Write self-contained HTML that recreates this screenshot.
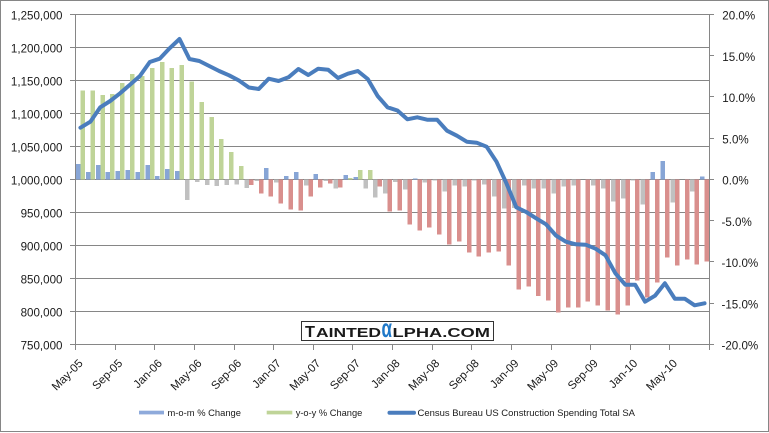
<!DOCTYPE html>
<html><head><meta charset="utf-8"><style>
html,body{margin:0;padding:0;background:#fff;}
svg{display:block;}
text{font-family:"Liberation Sans",Arial,sans-serif;}
</style></head><body>
<svg width="769" height="433" viewBox="0 0 769 433" xmlns="http://www.w3.org/2000/svg">
<rect x="0" y="0" width="769" height="433" fill="#ffffff"/>
<rect x="0.5" y="0.5" width="768" height="431" fill="#ffffff" stroke="#868686"/>
<!-- gridlines -->
<g stroke="#868686" stroke-width="1" shape-rendering="crispEdges">
<line x1="75.5" y1="14.5" x2="709.5" y2="14.5"/>
<line x1="75.5" y1="47.5" x2="709.5" y2="47.5"/>
<line x1="75.5" y1="80.5" x2="709.5" y2="80.5"/>
<line x1="75.5" y1="113.5" x2="709.5" y2="113.5"/>
<line x1="75.5" y1="146.5" x2="709.5" y2="146.5"/>
<line x1="75.5" y1="179.5" x2="709.5" y2="179.5"/>
<line x1="75.5" y1="212.5" x2="709.5" y2="212.5"/>
<line x1="75.5" y1="245.5" x2="709.5" y2="245.5"/>
<line x1="75.5" y1="278.5" x2="709.5" y2="278.5"/>
<line x1="75.5" y1="311.5" x2="709.5" y2="311.5"/>
</g>
<!-- m-o-m positive -->
<g fill="#87a5d6" shape-rendering="crispEdges">
<rect x="76.0" y="164" width="4.5" height="15.5"/>
<rect x="85.9" y="172" width="4.5" height="7.5"/>
<rect x="95.8" y="165" width="4.5" height="14.5"/>
<rect x="105.7" y="172" width="4.5" height="7.5"/>
<rect x="115.6" y="171" width="4.5" height="8.5"/>
<rect x="125.5" y="170" width="4.5" height="9.5"/>
<rect x="135.4" y="172" width="4.5" height="7.5"/>
<rect x="145.3" y="165" width="4.5" height="14.5"/>
<rect x="155.2" y="176" width="4.5" height="3.5"/>
<rect x="165.2" y="169" width="4.5" height="10.5"/>
<rect x="175.1" y="171" width="4.5" height="8.5"/>
<rect x="264.2" y="168" width="4.5" height="11.5"/>
<rect x="284.0" y="176" width="4.5" height="3.5"/>
<rect x="293.9" y="172" width="4.5" height="7.5"/>
<rect x="313.7" y="174" width="4.5" height="5.5"/>
<rect x="343.5" y="175" width="4.5" height="4.5"/>
<rect x="353.4" y="177" width="4.5" height="2.5"/>
<rect x="412.8" y="178.3" width="4.5" height="1.2"/>
<rect x="650.5" y="172" width="4.5" height="7.5"/>
<rect x="660.5" y="161" width="4.5" height="18.5"/>
<rect x="700.1" y="176.7" width="4.5" height="2.8"/>
</g>
<!-- m-o-m negative -->
<g fill="#c0c0c0" shape-rendering="crispEdges">
<rect x="185.0" y="179.5" width="4.5" height="20.5"/>
<rect x="194.9" y="179.5" width="4.5" height="2.5"/>
<rect x="204.8" y="179.5" width="4.5" height="5.5"/>
<rect x="214.7" y="179.5" width="4.5" height="6.5"/>
<rect x="224.6" y="179.5" width="4.5" height="5.5"/>
<rect x="234.5" y="179.5" width="4.5" height="5.2"/>
<rect x="244.4" y="179.5" width="4.5" height="8.5"/>
<rect x="254.3" y="179.5" width="4.5" height="1.5"/>
<rect x="274.1" y="179.5" width="4.5" height="3.2"/>
<rect x="303.8" y="179.5" width="4.5" height="6.2"/>
<rect x="323.7" y="179.5" width="4.5" height="1.5"/>
<rect x="333.6" y="179.5" width="4.5" height="9.2"/>
<rect x="363.3" y="179.5" width="4.5" height="9.2"/>
<rect x="373.2" y="179.5" width="4.5" height="18.2"/>
<rect x="383.1" y="179.5" width="4.5" height="14.2"/>
<rect x="393.0" y="179.5" width="4.5" height="2.5"/>
<rect x="402.9" y="179.5" width="4.5" height="9.8"/>
<rect x="422.7" y="179.5" width="4.5" height="3.2"/>
<rect x="432.6" y="179.5" width="4.5" height="1.2"/>
<rect x="442.5" y="179.5" width="4.5" height="12.2"/>
<rect x="452.4" y="179.5" width="4.5" height="6.2"/>
<rect x="462.3" y="179.5" width="4.5" height="7.2"/>
<rect x="472.2" y="179.5" width="4.5" height="1.2"/>
<rect x="482.1" y="179.5" width="4.5" height="5.2"/>
<rect x="492.1" y="179.5" width="4.5" height="17.2"/>
<rect x="502.0" y="179.5" width="4.5" height="29"/>
<rect x="511.9" y="179.5" width="4.5" height="28.5"/>
<rect x="521.8" y="179.5" width="4.5" height="6"/>
<rect x="531.7" y="179.5" width="4.5" height="9"/>
<rect x="541.6" y="179.5" width="4.5" height="9"/>
<rect x="551.5" y="179.5" width="4.5" height="14"/>
<rect x="561.4" y="179.5" width="4.5" height="7.2"/>
<rect x="571.3" y="179.5" width="4.5" height="6"/>
<rect x="591.1" y="179.5" width="4.5" height="6"/>
<rect x="601.0" y="179.5" width="4.5" height="9.2"/>
<rect x="610.9" y="179.5" width="4.5" height="22"/>
<rect x="620.8" y="179.5" width="4.5" height="19"/>
<rect x="630.7" y="179.5" width="4.5" height="1"/>
<rect x="640.6" y="179.5" width="4.5" height="25"/>
<rect x="670.4" y="179.5" width="4.5" height="22.8"/>
<rect x="690.2" y="179.5" width="4.5" height="12"/>
</g>
<!-- y-o-y positive -->
<g fill="#bfd498" shape-rendering="crispEdges">
<rect x="80.5" y="90.7" width="4.5" height="88.8"/>
<rect x="90.4" y="90.7" width="4.5" height="88.8"/>
<rect x="100.3" y="95" width="4.5" height="84.5"/>
<rect x="110.2" y="94" width="4.5" height="85.5"/>
<rect x="120.1" y="83" width="4.5" height="96.5"/>
<rect x="130.0" y="74" width="4.5" height="105.5"/>
<rect x="139.9" y="76" width="4.5" height="103.5"/>
<rect x="149.8" y="68" width="4.5" height="111.5"/>
<rect x="159.8" y="62" width="4.5" height="117.5"/>
<rect x="169.7" y="68" width="4.5" height="111.5"/>
<rect x="179.6" y="65" width="4.5" height="114.5"/>
<rect x="189.5" y="81.7" width="4.5" height="97.8"/>
<rect x="199.4" y="102" width="4.5" height="77.5"/>
<rect x="209.3" y="117" width="4.5" height="62.5"/>
<rect x="219.2" y="139" width="4.5" height="40.5"/>
<rect x="229.1" y="152" width="4.5" height="27.5"/>
<rect x="239.0" y="166" width="4.5" height="13.5"/>
<rect x="348.0" y="178" width="4.5" height="1.5"/>
<rect x="357.9" y="170" width="4.5" height="9.5"/>
<rect x="367.8" y="170" width="4.5" height="9.5"/>
</g>
<!-- y-o-y negative -->
<g fill="#d98f8d" shape-rendering="crispEdges">
<rect x="248.9" y="179.5" width="4.5" height="5.5"/>
<rect x="258.8" y="179.5" width="4.5" height="14.2"/>
<rect x="268.7" y="179.5" width="4.5" height="17.2"/>
<rect x="278.6" y="179.5" width="4.5" height="24.2"/>
<rect x="288.5" y="179.5" width="4.5" height="30.2"/>
<rect x="298.4" y="179.5" width="4.5" height="31.2"/>
<rect x="308.3" y="179.5" width="4.5" height="17.2"/>
<rect x="318.2" y="179.5" width="4.5" height="8.2"/>
<rect x="328.2" y="179.5" width="4.5" height="4.2"/>
<rect x="338.1" y="179.5" width="4.5" height="8.2"/>
<rect x="377.7" y="179.5" width="4.5" height="7.2"/>
<rect x="387.6" y="179.5" width="4.5" height="32.2"/>
<rect x="397.5" y="179.5" width="4.5" height="31.2"/>
<rect x="407.4" y="179.5" width="4.5" height="45.2"/>
<rect x="417.3" y="179.5" width="4.5" height="51.2"/>
<rect x="427.2" y="179.5" width="4.5" height="48.2"/>
<rect x="437.1" y="179.5" width="4.5" height="55.2"/>
<rect x="447.0" y="179.5" width="4.5" height="65.2"/>
<rect x="456.9" y="179.5" width="4.5" height="62.2"/>
<rect x="466.8" y="179.5" width="4.5" height="73.2"/>
<rect x="476.7" y="179.5" width="4.5" height="77.2"/>
<rect x="486.6" y="179.5" width="4.5" height="73.2"/>
<rect x="496.6" y="179.5" width="4.5" height="72.2"/>
<rect x="506.5" y="179.5" width="4.5" height="86.2"/>
<rect x="516.4" y="179.5" width="4.5" height="110.2"/>
<rect x="526.3" y="179.5" width="4.5" height="107.2"/>
<rect x="536.2" y="179.5" width="4.5" height="116.5"/>
<rect x="546.1" y="179.5" width="4.5" height="121.2"/>
<rect x="556.0" y="179.5" width="4.5" height="133"/>
<rect x="565.9" y="179.5" width="4.5" height="128.2"/>
<rect x="575.8" y="179.5" width="4.5" height="128.2"/>
<rect x="585.7" y="179.5" width="4.5" height="122.2"/>
<rect x="595.6" y="179.5" width="4.5" height="126.2"/>
<rect x="605.5" y="179.5" width="4.5" height="131.2"/>
<rect x="615.4" y="179.5" width="4.5" height="135.2"/>
<rect x="625.3" y="179.5" width="4.5" height="126.2"/>
<rect x="635.2" y="179.5" width="4.5" height="101.2"/>
<rect x="645.1" y="179.5" width="4.5" height="118.2"/>
<rect x="655.1" y="179.5" width="4.5" height="103.2"/>
<rect x="665.0" y="179.5" width="4.5" height="78.2"/>
<rect x="674.9" y="179.5" width="4.5" height="86.2"/>
<rect x="684.8" y="179.5" width="4.5" height="80.2"/>
<rect x="694.7" y="179.5" width="4.5" height="85.2"/>
<rect x="704.6" y="179.5" width="4.5" height="82.2"/>
</g>
<!-- axes -->
<g stroke="#868686" stroke-width="1" shape-rendering="crispEdges">
<line x1="75.5" y1="14.5" x2="75.5" y2="345"/>
<line x1="709.5" y1="14.5" x2="709.5" y2="345"/>
<line x1="75" y1="344.5" x2="710" y2="344.5"/>
<!-- left ticks -->
<line x1="70" y1="14.5" x2="75.5" y2="14.5"/>
<line x1="70" y1="47.5" x2="75.5" y2="47.5"/>
<line x1="70" y1="80.5" x2="75.5" y2="80.5"/>
<line x1="70" y1="113.5" x2="75.5" y2="113.5"/>
<line x1="70" y1="146.5" x2="75.5" y2="146.5"/>
<line x1="70" y1="179.5" x2="75.5" y2="179.5"/>
<line x1="70" y1="212.5" x2="75.5" y2="212.5"/>
<line x1="70" y1="245.5" x2="75.5" y2="245.5"/>
<line x1="70" y1="278.5" x2="75.5" y2="278.5"/>
<line x1="70" y1="311.5" x2="75.5" y2="311.5"/>
<line x1="70" y1="344.5" x2="75.5" y2="344.5"/>
<!-- right ticks -->
<line x1="709.5" y1="14.5" x2="714" y2="14.5"/>
<line x1="709.5" y1="55.5" x2="714" y2="55.5"/>
<line x1="709.5" y1="96.5" x2="714" y2="96.5"/>
<line x1="709.5" y1="138.5" x2="714" y2="138.5"/>
<line x1="709.5" y1="179.5" x2="714" y2="179.5"/>
<line x1="709.5" y1="220.5" x2="714" y2="220.5"/>
<line x1="709.5" y1="261.5" x2="714" y2="261.5"/>
<line x1="709.5" y1="303.5" x2="714" y2="303.5"/>
<line x1="709.5" y1="344.5" x2="714" y2="344.5"/>
<!-- bottom ticks -->
<line x1="75.5" y1="344.5" x2="75.5" y2="350"/>
<line x1="115.5" y1="344.5" x2="115.5" y2="350"/>
<line x1="154.5" y1="344.5" x2="154.5" y2="350"/>
<line x1="194.5" y1="344.5" x2="194.5" y2="350"/>
<line x1="234.5" y1="344.5" x2="234.5" y2="350"/>
<line x1="273.5" y1="344.5" x2="273.5" y2="350"/>
<line x1="313.5" y1="344.5" x2="313.5" y2="350"/>
<line x1="352.5" y1="344.5" x2="352.5" y2="350"/>
<line x1="392.5" y1="344.5" x2="392.5" y2="350"/>
<line x1="432.5" y1="344.5" x2="432.5" y2="350"/>
<line x1="471.5" y1="344.5" x2="471.5" y2="350"/>
<line x1="511.5" y1="344.5" x2="511.5" y2="350"/>
<line x1="551.5" y1="344.5" x2="551.5" y2="350"/>
<line x1="590.5" y1="344.5" x2="590.5" y2="350"/>
<line x1="630.5" y1="344.5" x2="630.5" y2="350"/>
<line x1="669.5" y1="344.5" x2="669.5" y2="350"/>
<line x1="709.5" y1="344.5" x2="709.5" y2="350"/>
</g>
<!-- series line -->
<polyline fill="none" stroke="#4a7dbd" stroke-width="4" stroke-linejoin="round" stroke-linecap="round" points="80.45,127.7 90.36,121.7 100.26,107.3 110.17,101 120.07,93.3 129.98,84.7 139.89,76 149.79,62 159.7,58.7 169.6,48.3 179.51,39 189.42,59 199.32,61 209.23,66 219.13,71 229.04,75.3 238.95,80.5 248.85,87.5 258.76,89 268.66,78.7 278.57,81 288.48,77.3 298.38,69 308.29,75 318.19,68.7 328.1,69.7 338.01,78 347.91,73.7 357.82,71 367.72,79 377.63,96 387.54,107.3 397.44,110.5 407.35,119.3 417.25,117.3 427.16,119.7 437.07,119.7 446.97,130.7 456.88,135.7 466.78,141.7 476.69,142.7 486.6,146.7 496.5,161.7 506.41,183.3 516.31,207.3 526.22,212 536.13,218.3 546.03,224.3 555.94,235.5 565.84,241.7 575.75,244.3 585.66,244.7 595.56,248.7 605.47,255.3 615.37,273.3 625.28,284.7 635.19,284.7 645.09,301.7 655,295.7 664.9,283.3 674.81,298.7 684.72,298.7 694.62,305.3 704.53,303.3"/>
<!-- logo -->
<rect x="301.5" y="321.5" width="192" height="19" fill="#ffffff" stroke="#333333" shape-rendering="crispEdges"/>
<text x="305" y="337" font-size="16" font-weight="bold" fill="#1a1a1a" textLength="10" lengthAdjust="spacingAndGlyphs">T</text>
<text x="316" y="337" font-size="13" font-weight="bold" fill="#1a1a1a" textLength="65" lengthAdjust="spacingAndGlyphs">AINTED</text>
<text x="381.5" y="337" font-size="26" font-weight="bold" fill="#1f78c8" textLength="10.5" lengthAdjust="spacingAndGlyphs">α</text>
<text x="392.5" y="337" font-size="13" font-weight="bold" fill="#1a1a1a" textLength="97.5" lengthAdjust="spacingAndGlyphs">LPHA.COM</text>
<!-- left labels -->
<g font-size="11.6" fill="#1a1a1a" text-anchor="end">
<text x="62.5" y="19.7">1,250,000</text>
<text x="62.5" y="52.7">1,200,000</text>
<text x="62.5" y="85.7">1,150,000</text>
<text x="62.5" y="118.7">1,100,000</text>
<text x="62.5" y="151.7">1,050,000</text>
<text x="62.5" y="184.7">1,000,000</text>
<text x="62.5" y="217.7">950,000</text>
<text x="62.5" y="250.7">900,000</text>
<text x="62.5" y="283.7">850,000</text>
<text x="62.5" y="316.7">800,000</text>
<text x="62.5" y="349.7">750,000</text>
</g>
<!-- right labels -->
<g font-size="11.6" fill="#1a1a1a" text-anchor="start">
<text x="722.3" y="19.7">20.0%</text>
<text x="722.3" y="60.9">15.0%</text>
<text x="722.3" y="102.2">10.0%</text>
<text x="722.3" y="143.4">5.0%</text>
<text x="722.3" y="184.7">0.0%</text>
<text x="721.5" y="225.9">-5.0%</text>
<text x="721.5" y="267.2">-10.0%</text>
<text x="721.5" y="308.4">-15.0%</text>
<text x="721.5" y="349.7">-20.0%</text>
</g>
<!-- x labels -->
<g font-size="11.5" fill="#1a1a1a" text-anchor="end">
<text transform="translate(83.5,364) rotate(-45)">May-05</text>
<text transform="translate(123.1,364) rotate(-45)">Sep-05</text>
<text transform="translate(162.8,364) rotate(-45)">Jan-06</text>
<text transform="translate(202.4,364) rotate(-45)">May-06</text>
<text transform="translate(242,364) rotate(-45)">Sep-06</text>
<text transform="translate(281.6,364) rotate(-45)">Jan-07</text>
<text transform="translate(321.2,364) rotate(-45)">May-07</text>
<text transform="translate(360.9,364) rotate(-45)">Sep-07</text>
<text transform="translate(400.5,364) rotate(-45)">Jan-08</text>
<text transform="translate(440.1,364) rotate(-45)">May-08</text>
<text transform="translate(479.7,364) rotate(-45)">Sep-08</text>
<text transform="translate(519.4,364) rotate(-45)">Jan-09</text>
<text transform="translate(559,364) rotate(-45)">May-09</text>
<text transform="translate(598.6,364) rotate(-45)">Sep-09</text>
<text transform="translate(638.2,364) rotate(-45)">Jan-10</text>
<text transform="translate(677.9,364) rotate(-45)">May-10</text>
</g>
<!-- legend -->
<rect x="139" y="410.7" width="25" height="3.7" fill="#8eaadb"/>
<text x="167.5" y="415.8" font-size="9.3" fill="#1a1a1a" textLength="73.5" lengthAdjust="spacingAndGlyphs">m-o-m % Change</text>
<rect x="266.7" y="410.7" width="25.6" height="3.7" fill="#bfd498"/>
<text x="295.7" y="415.8" font-size="9.3" fill="#1a1a1a" textLength="66.6" lengthAdjust="spacingAndGlyphs">y-o-y % Change</text>
<line x1="389.5" y1="412.7" x2="414" y2="412.7" stroke="#4a7dbd" stroke-width="4" stroke-linecap="round"/>
<text x="417.5" y="415.8" font-size="9.3" fill="#1a1a1a" textLength="217.5" lengthAdjust="spacingAndGlyphs">Census Bureau US Construction Spending Total SA</text>
</svg>
</body></html>
